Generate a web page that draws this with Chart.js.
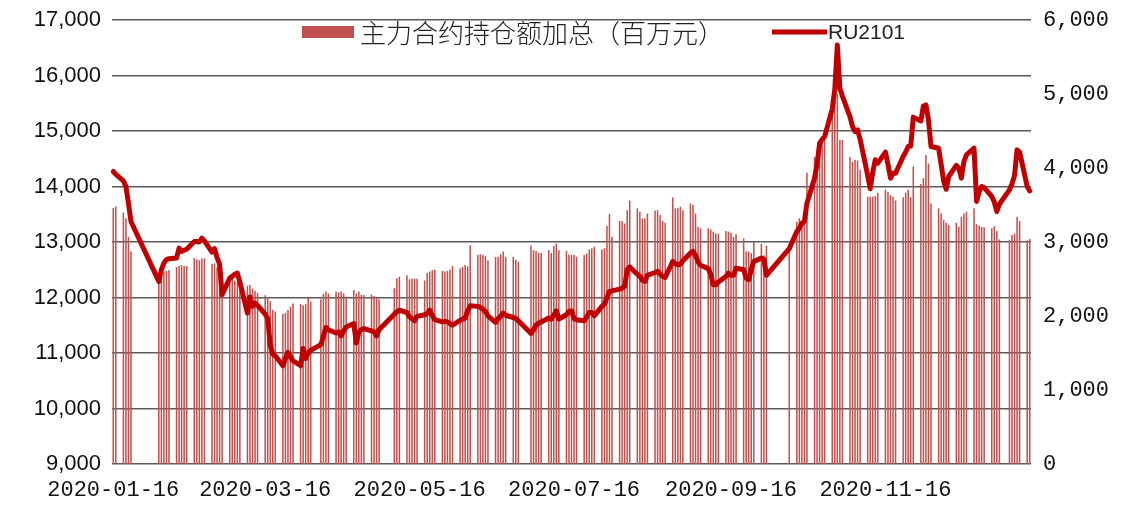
<!DOCTYPE html>
<html>
<head>
<meta charset="utf-8">
<script src="https://cdn.jsdelivr.net/npm/chart.js@4.4.1/dist/chart.umd.min.js"></script>
<style>
  html, body { margin: 0; padding: 0; background: #fff; }
</style>
</head>
<body>
<canvas id="myChart" width="1127" height="510"></canvas>
<script>
// days the exchange was closed (weekdays only)
var holidays = ["2020-01-24", "2020-01-27", "2020-01-28", "2020-01-29", "2020-01-30", "2020-01-31",
  "2020-04-06", "2020-05-01", "2020-05-04", "2020-05-05", "2020-06-25", "2020-06-26",
  "2020-10-01", "2020-10-02", "2020-10-05", "2020-10-06", "2020-10-07", "2020-10-08", "2021-01-01"];
var firstDay = "2020-01-16";
var lastDay = "2021-01-12";
var tickLabels = ["2020-01-16", "2020-03-16", "2020-05-16", "2020-07-16", "2020-09-16", "2020-11-16"];

// 主力合约持仓额加总（百万元）, one value per trading day
var holding = [
  3460, 3480, 3400, 3320, 3070, 2870,
  2460, 2530, 2600, 2610, 2620, 2660, 2675, 2690, 2675, 2675, 2780, 2765, 2755, 2780, 2780, 2705, 2710, 2660, 2640, 2600,
  2500, 2520, 2480, 2460, 2420, 2410, 2420, 2370, 2340, 2310, 2280, 2250, 2200, 2080, 2060, 2030, 2045, 2080, 2125, 2170, 2160, 2145,
  2160, 2250, 2195, 2225, 2300, 2330, 2305, 2330, 2320, 2330, 2305, 2260, 2350, 2305, 2330, 2285, 2285, 2290, 2270, 2240, 2225,
  2375, 2510, 2530, 2550, 2495, 2505, 2505, 2505, 2480, 2580, 2600, 2620, 2630, 2610, 2600, 2610, 2630, 2675,
  2645, 2665, 2690, 2670, 2955, 2825, 2835, 2825, 2810, 2750, 2795, 2800, 2835, 2870, 2800, 2800, 2760, 2735, 2955, 2890,
  2880, 2855, 2850, 2890, 2850, 2945, 2980, 2890, 2880, 2830, 2825, 2825, 2800, 2825, 2845, 2900, 2915, 2935, 2900, 2915, 3215, 3380, 3070,
  3285, 3285, 3250, 3430, 3560, 3455, 3410, 3320, 3320, 3385, 3425, 3430, 3365, 3285, 3260, 3600, 3455, 3455, 3475, 3430, 3520,
  3500, 3385, 3205, 3185, 3185, 3170, 3140, 3115, 3110, 3150, 3140, 3125, 3070, 3105, 3050, 2870, 2870, 2850, 3005, 2975, 2820, 2950,
  2935, 3275, 3320, 3230, 3365, 3935, 4150, 4240, 4340, 4420, 4510, 4700, 4900, 5000, 4380, 4380,
  4150, 4085, 4110, 4100, 3975, 3610, 3610, 3610, 3620, 3665, 3710, 3680, 3635, 3610, 3560, 3605, 3665, 3705, 3605, 4020, 3785,
  3860, 4175, 4060, 3520, 3455, 3385, 3300, 3260, 3230, 3260, 3205, 3340, 3385, 3410, 3455, 3240, 3220, 3205, 3200, 3185, 3215, 3150, 3035,
  3025, 3095, 3115, 3340, 3285, 3025, 3040
];

// RU2101 close, one value per trading day
var ru2101 = [
  14270, 14220, 14100, 14000, 13700, 13370,
  12290, 12500, 12620, 12680, 12700, 12710, 12890, 12830, 12850, 12870, 13010, 13010, 13000, 13070, 13020, 12820, 12880, 12720, 12600, 12050,
  12350, 12380, 12420, 12440, 12280, 11720, 12010, 11840, 11900, 11860, 11700, 11620, 11150, 10980, 10950, 10770, 10900, 11010, 10930, 10860, 10770, 11080,
  10900, 11000, 11050, 11150, 11300, 11460, 11420, 11360, 11380, 11310, 11400, 11470, 11530, 11180, 11380, 11420, 11440, 11400, 11380, 11310, 11420,
  11700, 11740, 11770, 11730, 11650, 11620, 11580, 11660, 11690, 11710, 11770, 11680, 11600, 11560, 11570, 11560, 11530, 11500,
  11590, 11610, 11630, 11760, 11850, 11840, 11820, 11790, 11750, 11670, 11550, 11620, 11660, 11720, 11680, 11640, 11620, 11580, 11350, 11420,
  11500, 11540, 11560, 11630, 11610, 11680, 11760, 11610, 11690, 11750, 11760, 11620, 11600, 11580, 11650, 11730, 11730, 11670, 11840, 11880, 12000, 12110, 12120,
  12150, 12170, 12200, 12500, 12550, 12420, 12380, 12310, 12290, 12400, 12450, 12470, 12420, 12380, 12360, 12650, 12610, 12590, 12600, 12660, 12800,
  12830, 12760, 12640, 12580, 12520, 12420, 12230, 12230, 12280, 12380, 12440, 12400, 12400, 12530, 12500, 12350, 12320, 12500, 12650, 12710, 12690, 12400,
  12880, 13190, 13250, 13340, 13370, 13700, 14150, 14400, 14780, 14850, 14900, 15400, 15750, 16550, 15770, 15630,
  15260, 15080, 14990, 15020, 14850, 14200, 13960, 14260, 14480, 14420, 14620, 14400, 14150, 14240, 14240, 14540, 14620, 14720, 14730, 15250, 15180,
  15450, 15470, 15200, 14720, 14690, 14400, 14100, 13950, 14180, 14380, 14330, 14150, 14450, 14570, 14690, 13730, 13900, 14000, 13980, 13820, 13720, 13550, 13680,
  13940, 14050, 14200, 14660, 14620, 14000, 13920
];

var barColor = "#C0504D";
var lineColor = "#C00000";

// calendar days on the axis, null on days without trading
var labels = [];
var barData = [];
var lineData = [];
var k = 0;
var t = Date.parse(firstDay + "T00:00:00Z");
var end = Date.parse(lastDay + "T00:00:00Z");
while (t <= end) {
  var d = new Date(t);
  var s = d.toISOString().slice(0, 10);
  var wd = d.getUTCDay();
  labels.push(s);
  if (wd != 0 && wd != 6 && holidays.indexOf(s) < 0 && k < holding.length) {
    barData.push(holding[k]);
    lineData.push(ru2101[k]);
    k++;
  } else {
    barData.push(null);
    lineData.push(null);
  }
  t += 86400000;
}

var topLegend = {
  id: "topLegend",
  afterDraw: function(chart) {
    var ctx = chart.ctx;
    var y = chart.chartArea.top + 12;
    ctx.save();
    ctx.fillStyle = barColor;
    ctx.fillRect(302, y - 6, 52, 12);
    ctx.fillStyle = "#222";
    ctx.textBaseline = "middle";
    ctx.font = "300 26px 'Noto Sans CJK SC'";
    ctx.fillText("主力合约持仓额加总（百万元）", 360, y + 1);
    ctx.strokeStyle = lineColor;
    ctx.lineWidth = 5;
    ctx.beginPath();
    ctx.moveTo(772, y);
    ctx.lineTo(827, y);
    ctx.stroke();
    ctx.font = "21px 'Liberation Sans'";
    ctx.fillText("RU2101", 828, y + 1);
    ctx.restore();
  }
};

function fitY(width) {
  return function(scale) {
    scale.width = width;
    scale.paddingTop = 0;
    scale.paddingBottom = 0;
  };
}

new Chart("myChart", {
  data: {
    labels: labels,
    datasets: [{
      type: "line",
      label: "RU2101",
      data: lineData,
      yAxisID: "y",
      borderColor: lineColor,
      borderWidth: 5,
      borderJoinStyle: "round",
      borderCapStyle: "round",
      pointRadius: 0,
      spanGaps: true,
      tension: 0,
      order: 0
    }, {
      type: "bar",
      label: "主力合约持仓额加总（百万元）",
      data: barData,
      yAxisID: "y1",
      backgroundColor: barColor,
      barPercentage: 0.6,
      categoryPercentage: 1.0,
      order: 1
    }]
  },
  options: {
    responsive: false,
    animation: false,
    layout: { padding: { top: 20, left: 0, right: 0, bottom: 0 } },
    plugins: {
      legend: { display: false },
      tooltip: { enabled: false }
    },
    scales: {
      x: {
        offset: true,
        grid: { display: false, drawTicks: false },
        border: { display: false },
        afterFit: function(scale) { scale.height = 46; },
        ticks: {
          autoSkip: false,
          maxRotation: 0,
          minRotation: 0,
          padding: 13,
          color: "#111",
          font: { family: "'Liberation Mono', monospace", size: 22 },
          callback: function(value) {
            var lab = this.getLabelForValue(value);
            return tickLabels.indexOf(lab) >= 0 ? lab : null;
          }
        }
      },
      y: {
        position: "left",
        min: 9000,
        max: 17000,
        afterFit: fitY(112),
        grid: { color: "#5a5a5a", lineWidth: 1.5, drawTicks: false },
        border: { display: false },
        ticks: {
          stepSize: 1000,
          padding: 11,
          color: "#111",
          font: { family: "'Liberation Sans'", size: 22 },
          callback: function(v) { return v.toLocaleString("en-US"); }
        }
      },
      y1: {
        position: "right",
        min: 0,
        max: 6000,
        afterFit: fitY(96),
        grid: { display: false, drawTicks: false },
        border: { display: false },
        ticks: {
          stepSize: 1000,
          padding: 12,
          color: "#111",
          font: { family: "'Liberation Mono', monospace", size: 22 },
          callback: function(v) { return v.toLocaleString("en-US"); }
        }
      }
    }
  },
  plugins: [topLegend]
});
</script>
</body>
</html>
